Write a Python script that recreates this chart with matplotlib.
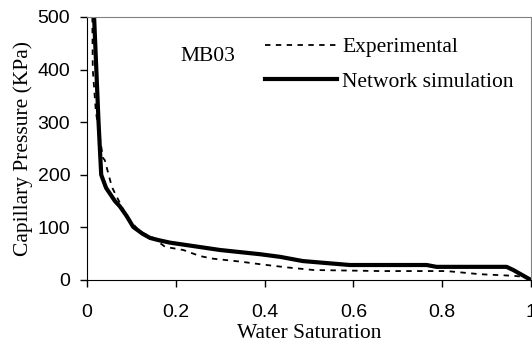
import matplotlib
matplotlib.use("Agg")
import matplotlib.pyplot as plt

exp_sw = [0.012, 0.013, 0.02, 0.036, 0.04, 0.056, 0.063, 0.09, 0.119, 0.149, 0.176, 0.217, 0.254, 0.284, 0.345, 0.39, 0.45, 0.51, 0.66, 0.81, 0.885, 0.96, 0.985, 1.0]
exp_pc = [500, 400, 320, 232, 228, 177, 165, 120, 92, 80, 63, 57, 45.6, 40.5, 35, 30, 24, 19, 17, 17, 11, 8, 6, 0]

sim_sw = [0.016, 0.02, 0.026, 0.032, 0.043, 0.063, 0.074, 0.089, 0.104, 0.125, 0.142, 0.16, 0.187, 0.30, 0.39, 0.435, 0.486, 0.592, 0.765, 0.787, 0.945, 0.96, 1.0]
sim_pc = [500, 420, 300, 200, 175, 150, 140, 122, 101, 88, 80, 76, 71, 57, 49, 44, 36, 28.5, 28.5, 25, 25, 19, 0]

fig = plt.figure(figsize=(5.32, 3.49), dpi=100)
ax = fig.add_axes([87/532, 1-280/349, (531-87)/532, (280-17)/349])

ax.plot(exp_sw, exp_pc, color='black', lw=1.3, linestyle=(0, (3, 3)), label='Experimental')
ax.plot(sim_sw, sim_pc, color='black', lw=3, label='Network simulation', solid_joinstyle='round')

ax.set_xlim(0, 1)
ax.set_ylim(0, 500)
ax.set_xticks([0, 0.2, 0.4, 0.6, 0.8, 1])
ax.set_xticklabels(['0', '0.2', '0.4', '0.6', '0.8', '1'])
ax.set_yticks([0, 100, 200, 300, 400, 500])
for lab in ax.get_xticklabels() + ax.get_yticklabels():
    lab.set_family('Liberation Sans')
    lab.set_fontsize(14)
ax.tick_params(direction='out', length=5, width=1)
ax.tick_params(axis='y', pad=7)
ax.tick_params(axis='x', pad=12)

for s in ['top', 'right']:
    ax.spines[s].set_color('#808080')
for s in ['left', 'bottom']:
    ax.spines[s].set_color('black')

ax.set_xlabel('Water Saturation', family='Liberation Serif', fontsize=15.5, labelpad=2.5)
ax.set_ylabel('Capillary Pressure (KPa)', family='Liberation Serif', fontsize=15.5, labelpad=3)

ax.text((180-87)/444, 1-(57-17)/263, 'MB03', transform=ax.transAxes,
        family='Liberation Serif', fontsize=15.5, va='center', ha='left')

leg = ax.legend(loc='upper left', bbox_to_anchor=((265-87)/444, 0.923), frameon=False,
                prop={'family': 'Liberation Serif', 'size': 15.5}, handlelength=3.35,
                handletextpad=0.23, labelspacing=0.68, borderaxespad=0, borderpad=0)

fig.savefig('out.png', dpi=100)
